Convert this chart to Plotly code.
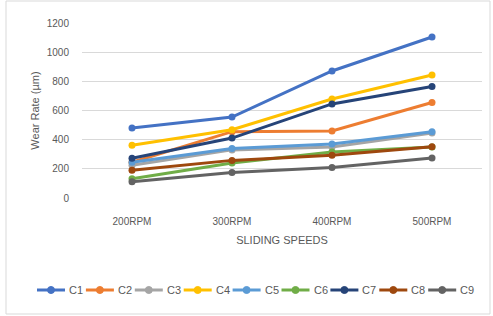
import plotly.graph_objects as go

categories = ["200RPM", "300RPM", "400RPM", "500RPM"]
series_names = ["C1", "C2", "C3", "C4", "C5", "C6", "C7", "C8", "C9"]
c1 = [480, 555, 871, 1104]
c2 = [245, 455, 460, 655]
c3 = [225, 330, 350, 445]
c4 = [362, 468, 679, 844]
c5 = [245, 340, 370, 455]
c6 = [132, 240, 315, 350]
c7 = [272, 411, 645, 765]
c8 = [190, 258, 293, 352]
c9 = [112, 175, 210, 274]
values = [c1, c2, c3, c4, c5, c6, c7, c8, c9]
colors = ["#4472C4", "#ED7D31", "#A5A5A5", "#FFC000", "#5B9BD5",
          "#70AD47", "#264478", "#9E480E", "#636363"]
y_ticks = [0, 200, 400, 600, 800, 1000, 1200]

W, H = 493, 316
L, R, T, B = 82, 11, 23, 118
PW, PH = W - L - R, H - T - B

def px(x):
    return (x - L) / PW

def py(y):
    return (H - B - y) / PH

fig = go.Figure()
for name, vals, col in zip(series_names, values, colors):
    fig.add_trace(go.Scatter(
        x=categories, y=vals, name=name, mode="lines+markers",
        line=dict(color=col, width=3),
        marker=dict(color=col, size=7),
        showlegend=False,
    ))

# custom legend (single row, like the original)
shapes = [dict(type="rect", xref="paper", yref="paper",
               x0=px(6), x1=px(490), y0=py(314), y1=py(1),
               line=dict(color="#D9D9D9", width=1), fillcolor="rgba(0,0,0,0)",
               layer="below")]
annotations = []
leg_y = 290
for i, (name, col) in enumerate(zip(series_names, colors)):
    x0 = 37 + 48.9 * i
    shapes.append(dict(type="line", xref="paper", yref="paper",
                       x0=px(x0), x1=px(x0 + 28), y0=py(leg_y), y1=py(leg_y),
                       line=dict(color=col, width=3)))
    shapes.append(dict(type="circle", xref="paper", yref="paper",
                       x0=px(x0 + 14 - 3.5), x1=px(x0 + 14 + 3.5),
                       y0=py(leg_y + 3.5), y1=py(leg_y - 3.5),
                       line=dict(color=col, width=1), fillcolor=col))
    annotations.append(dict(text=name, xref="paper", yref="paper",
                            x=px(x0 + 30), y=py(leg_y), xanchor="left", yanchor="middle",
                            showarrow=False, font=dict(size=11, color="#595959")))

font = "Liberation Sans, Arial, sans-serif"
fig.update_layout(
    width=W, height=H,
    margin=dict(l=L, r=R, t=T, b=B),
    paper_bgcolor="white", plot_bgcolor="white",
    font=dict(family=font, size=10, color="#595959"),
    showlegend=False,
    xaxis=dict(
        type="category", showgrid=False, showline=False, zeroline=False,
        ticks="", tickfont=dict(size=10, color="#595959"), ticklabelstandoff=16,
        title=dict(text="SLIDING SPEEDS", font=dict(size=11, color="#595959"), standoff=10),
        range=[-0.5, 3.5], automargin=False,
    ),
    yaxis=dict(
        range=[0, 1200], tickvals=y_ticks, showgrid=True, gridcolor="#D9D9D9",
        gridwidth=1, zeroline=False, showline=False, ticks="",
        tickfont=dict(size=10, color="#595959"), ticklabelstandoff=12,
        title=dict(text="Wear Rate (µm)", font=dict(size=11, color="#595959"), standoff=4),
        automargin=False,
    ),
    shapes=shapes,
    annotations=annotations,
)

fig.write_html("out.html", config={"displayModeBar": False},
               post_script="document.body.style.margin='0';")
